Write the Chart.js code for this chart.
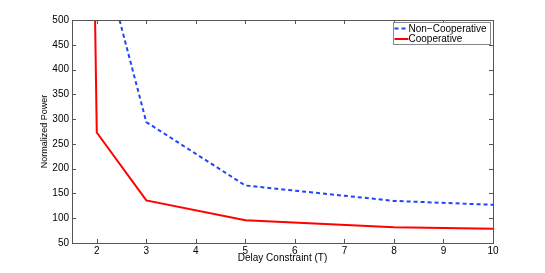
<!DOCTYPE html>
<html>
<head>
<meta charset="utf-8">
<script src="https://cdn.jsdelivr.net/npm/chart.js@4/dist/chart.umd.min.js"></script>
<style>
  html, body { margin: 0; padding: 0; background: #fff; }
  #wrap { width: 545px; height: 273px; }
</style>
</head>
<body>
<div id="wrap"><canvas id="chart" width="545" height="273"></canvas></div>
<script>
// data
var delays = [1, 2, 3, 5, 8, 10];
var nonCoop = [1060, 675, 294, 166, 135, 127];
var coop = [7000, 273, 136, 96, 82, 79];
var xTicks = [2, 3, 4, 5, 6, 7, 8, 9, 10];
var yTicks = [50, 100, 150, 200, 250, 300, 350, 400, 450, 500];

var FONT = '"Liberation Sans", Arial, Helvetica, sans-serif';

function toPoints(xs, ys) {
    var pts = [];
    for (var i = 0; i < xs.length; i++) {
        pts.push({x: xs[i], y: ys[i]});
    }
    return pts;
}

// matlab style box with inward ticks
var boxPlugin = {
    id: 'box',
    afterDatasetsDraw: function(chart) {
        var ctx = chart.ctx;
        var a = chart.chartArea;
        var xs = chart.scales.x, ys = chart.scales.y;
        ctx.save();
        ctx.strokeStyle = '#555';
        ctx.lineWidth = 1;
        ctx.beginPath();
        xTicks.forEach(function(v) {
            var px = Math.round(xs.getPixelForValue(v)) + 0.5;
            ctx.moveTo(px, a.bottom); ctx.lineTo(px, a.bottom - 4);
            ctx.moveTo(px, a.top); ctx.lineTo(px, a.top + 4);
        });
        yTicks.forEach(function(v) {
            var py = Math.round(ys.getPixelForValue(v)) + 0.5;
            ctx.moveTo(a.left, py); ctx.lineTo(a.left + 4, py);
            ctx.moveTo(a.right, py); ctx.lineTo(a.right - 4, py);
        });
        ctx.stroke();
        ctx.strokeRect(Math.round(a.left) + 0.5, Math.round(a.top) + 0.5,
                       Math.round(a.right - a.left), Math.round(a.bottom - a.top));
        ctx.restore();
    }
};

// legend inside the top right corner
var legendPlugin = {
    id: 'innerLegend',
    afterDraw: function(chart) {
        var ctx = chart.ctx;
        var a = chart.chartArea;
        var w = 97, h = 22;
        var x0 = a.right - w - 2.5, y0 = a.top + 2.5;
        ctx.save();
        ctx.fillStyle = '#fff';
        ctx.fillRect(x0, y0, w, h);
        ctx.strokeStyle = '#888';
        ctx.lineWidth = 1;
        ctx.strokeRect(x0, y0, w, h);
        ctx.font = '10px ' + FONT;
        ctx.textBaseline = 'middle';
        chart.data.datasets.forEach(function(ds, i) {
            var ly = y0 + 6 + i * 10.5;
            ctx.strokeStyle = ds.borderColor;
            ctx.lineWidth = 2;
            ctx.setLineDash(ds.borderDash || []);
            ctx.beginPath();
            ctx.moveTo(x0 + 1, ly);
            ctx.lineTo(x0 + 15, ly);
            ctx.stroke();
            ctx.setLineDash([]);
            ctx.fillStyle = '#000';
            ctx.fillText(ds.label, x0 + 15, ly + 0.5);
        });
        ctx.restore();
    }
};

new Chart(document.getElementById('chart'), {
    type: 'line',
    data: {
        datasets: [
            {
                label: 'Non\u2212Cooperative',
                data: toPoints(delays, nonCoop),
                borderColor: '#2244ff',
                borderWidth: 2,
                borderDash: [4, 3],
                pointRadius: 0,
                fill: false,
                tension: 0
            },
            {
                label: 'Cooperative',
                data: toPoints(delays, coop),
                borderColor: '#ff0000',
                borderWidth: 2,
                pointRadius: 0,
                fill: false,
                tension: 0
            }
        ]
    },
    options: {
        responsive: false,
        animation: false,
        clip: 0,
        layout: { padding: { top: 20, right: 52, left: 0, bottom: 0 } },
        plugins: {
            legend: { display: false },
            tooltip: { enabled: false }
        },
        scales: {
            x: {
                type: 'linear',
                min: 1.5,
                max: 10,
                afterFit: function(s) { s.height = 30; },
                afterBuildTicks: function(s) {
                    s.ticks = xTicks.map(function(v) { return {value: v}; });
                },
                grid: { display: false, drawTicks: false },
                border: { display: false },
                ticks: { color: '#000', padding: 2, font: { size: 10, family: FONT }, maxRotation: 0 },
                title: {
                    display: true,
                    text: 'Delay Constraint (T)',
                    color: '#000',
                    font: { size: 10, family: FONT },
                    padding: { top: 0, bottom: 9 }
                }
            },
            y: {
                type: 'linear',
                min: 50,
                max: 500,
                afterFit: function(s) { s.width = 72; },
                afterBuildTicks: function(s) {
                    s.ticks = yTicks.map(function(v) { return {value: v}; });
                },
                grid: { display: false, drawTicks: false },
                border: { display: false },
                ticks: { color: '#000', padding: 3, font: { size: 10, family: FONT } },
                title: {
                    display: true,
                    text: 'Normalized Power',
                    color: '#000',
                    font: { size: 9, family: FONT },
                    padding: { top: 39, bottom: 0 }
                }
            }
        }
    },
    plugins: [boxPlugin, legendPlugin]
});
</script>
</body>
</html>
